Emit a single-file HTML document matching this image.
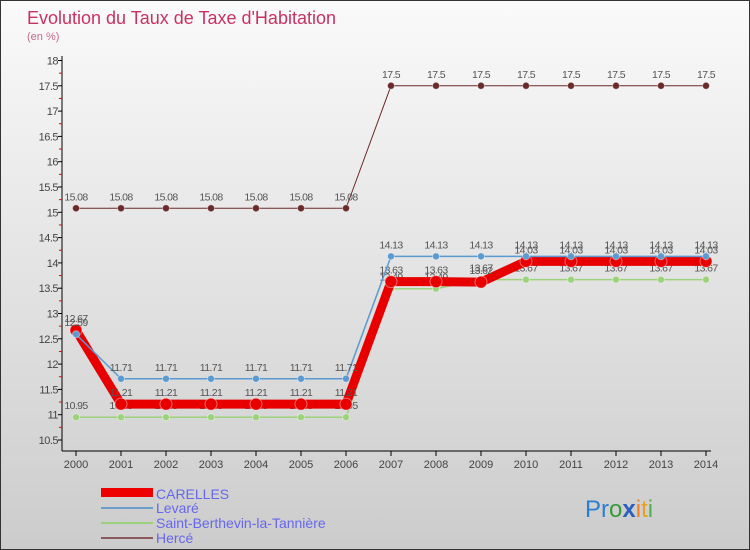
<!DOCTYPE html>
<html><head><meta charset="utf-8"><style>
body{margin:0;width:750px;height:550px;overflow:hidden;font-family:"Liberation Sans",sans-serif}
#wrap{position:relative;width:748px;height:548px;border:1px solid #333;background:linear-gradient(#fafafa,#cccccc)}
</style></head><body>
<div id="wrap">
<svg id="chart" width="748" height="548" style="position:absolute;left:0;top:0">
<text x="26" y="23" font-size="18" fill="#c83262">Evolution du Taux de Taxe d'Habitation</text>
<text x="26" y="39" font-size="11" fill="#c86888">(en %)</text>
<g id="axes"></g><g id="series"></g>
<g>
<rect x="100" y="487" width="52" height="9" fill="#e00"/>
<text x="155" y="498" font-size="14" fill="#6666ee">CARELLES</text>
<line x1="100" y1="507" x2="152" y2="507" stroke="#6a9ec9" stroke-width="2"/>
<text x="155" y="512" font-size="14" fill="#6666ee">Levaré</text>
<line x1="100" y1="522" x2="152" y2="522" stroke="#9cd27c" stroke-width="2"/>
<text x="155" y="527" font-size="14" fill="#6666ee">Saint-Berthevin-la-Tannière</text>
<line x1="100" y1="537" x2="152" y2="537" stroke="#8a5a5a" stroke-width="2"/>
<text x="155" y="542" font-size="14" fill="#6666ee">Hercé</text>
</g>
<text x="584" y="516" font-size="24"><tspan fill="#2a7fd0">Pr</tspan><tspan fill="#3a9a3a">o</tspan><tspan fill="#2a5fc0" font-weight="bold">x</tspan><tspan fill="#f08020">i</tspan><tspan fill="#e8a020">t</tspan><tspan fill="#50b050">i</tspan></text>
</svg></div>
<script>
const years=[2000,2001,2002,2003,2004,2005,2006,2007,2008,2009,2010,2011,2012,2013,2014];
const yTicks=[10.5,11,11.5,12,12.5,13,13.5,14,14.5,15,15.5,16,16.5,17,17.5,18];
const carelles=[12.67,11.21,11.21,11.21,11.21,11.21,11.21,13.63,13.63,13.62,14.03,14.03,14.03,14.03,14.03];
const levare=[12.59,11.71,11.71,11.71,11.71,11.71,11.71,14.13,14.13,14.13,14.13,14.13,14.13,14.13,14.13];
const saint=[10.95,10.95,10.95,10.95,10.95,10.95,10.95,13.49,13.49,13.67,13.67,13.67,13.67,13.67,13.67];
const herce=[15.08,15.08,15.08,15.08,15.08,15.08,15.08,17.5,17.5,17.5,17.5,17.5,17.5,17.5,17.5];
const NS="http://www.w3.org/2000/svg";
const X=i=>75+i*45, Y=v=>439-(v-10.5)*50.6;
function mk(t,a,p){const e=document.createElementNS(NS,t);for(const k in a)e.setAttribute(k,a[k]);p.appendChild(e);return e;}
const ax=document.getElementById('axes'),sg=document.getElementById('series');
let l=mk('line',{x1:61,y1:55,x2:61,y2:450,stroke:'#000','stroke-width':1},ax);


l=mk('line',{x1:61,y1:450,x2:710,y2:450,stroke:'#000','stroke-width':1},ax);


yTicks.forEach((v,i)=>{
 mk('line',{x1:57,x2:61,y1:Y(v),y2:Y(v),stroke:'#000'},ax);
 if(i<yTicks.length-1)mk('line',{x1:58,x2:61,y1:Y(v+0.25),y2:Y(v+0.25),stroke:'#e00'},ax);
 const t=mk('text',{x:57,y:Y(v)+4,'font-size':11,'text-anchor':'end',fill:'#444','letter-spacing':'-0.5'},ax);
 
 
 t.textContent=v;
});
years.forEach((y,i)=>{
 mk('line',{x1:X(i),x2:X(i),y1:450,y2:455,stroke:'#000'},ax);
 const t=mk('text',{x:X(i),y:467,'font-size':11,'text-anchor':'middle',fill:'#444'},ax);
 
 
 t.textContent=y;
});
function series(data,color,w,r,name){
 const g=mk('g',{},sg);
 
 
 const p=mk('polyline',{points:data.map((v,i)=>X(i)+','+Y(v)).join(' '),fill:'none',stroke:color,'stroke-width':w,'stroke-linejoin':'round'},g);
 
 
 data.forEach((v,i)=>{
  const c=mk('circle',{cx:X(i),cy:Y(v),r:r,fill:color,stroke:'#fff','stroke-opacity':0.4},g);
  
  
  const t=mk('text',{x:X(i),y:Y(v)-8,'font-size':10.5,'text-anchor':'middle',fill:'#555','letter-spacing':'-0.6'},g);
  
  
  t.textContent=v;
 });
}
series(herce,'#6b2a2a',1,3.5,'herce');
series(saint,'#9cd27c',1.5,3.5,'saint-berthevin');
series(carelles,'#e80000',9,6,'carelles');
series(levare,'#5a9ad0',1.5,3.5,'levare');
</script>
</body></html>
